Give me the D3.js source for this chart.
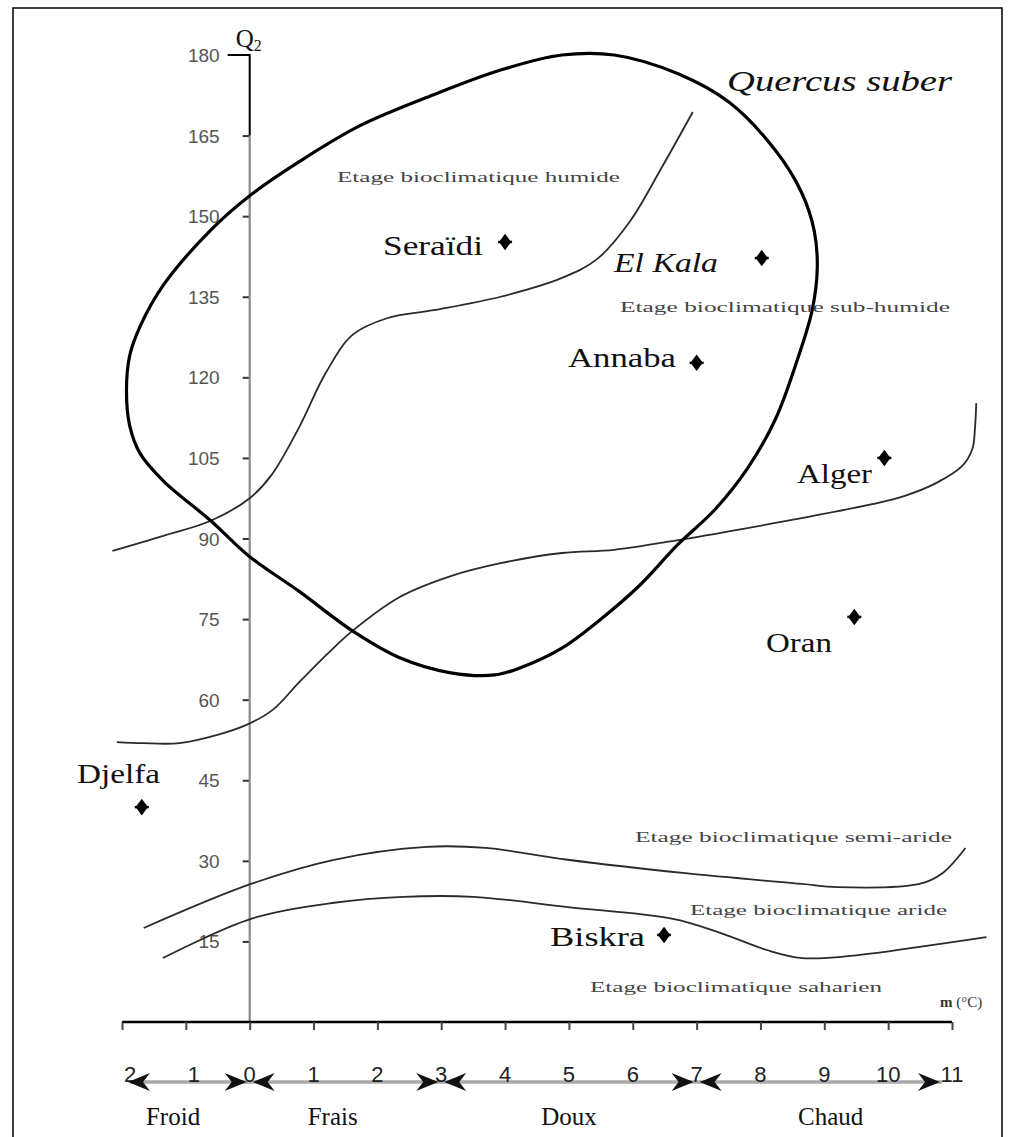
<!DOCTYPE html>
<html><head><meta charset="utf-8">
<script src="https://cdn.jsdelivr.net/npm/d3@7"></script>
<style>body{margin:0;background:#fff}svg{display:block}</style>
</head><body>
<svg id="c" width="1011" height="1137"></svg>
<script>
// ---- data (m in °C, Q2) ----
const yTicks = [15,30,45,60,75,90,105,120,135,150,165,180];
const xTicks = [-2,-1,0,1,2,3,4,5,6,7,8,9,10,11];
const xTickLabels = ["2","1","0","1","2","3","4","5","6","7","8","9","10","11"];
const quercus = [[0,86.6],[-0.61,93.3],[-1.35,100.7],[-1.72,105.9],[-1.88,111],[-1.93,117.6],[-1.88,124],[-1.72,129.4],[-1.35,137.2],[-0.61,147.4],[0,153.8],[0.77,160.1],[1.72,166.8],[2.88,172.6],[3.93,177.2],[4.89,180],[5.71,180],[6.71,176.5],[7.52,171.1],[8.23,162.3],[8.64,154.5],[8.84,147.4],[8.89,140.4],[8.81,132.5],[8.57,123],[8.23,112.1],[7.8,103.1],[7.28,95.3],[6.7,88.8],[6.11,81.3],[5.48,74.8],[4.89,69.6],[4.23,65.9],[3.84,64.6],[3.15,65],[2.35,67.8],[1.61,72.8],[0.77,80.2]];
const humidLimit = [[-2.15,87.7],[-1.35,90.5],[-0.61,93.3],[0,97.5],[0.34,101.8],[0.77,110.6],[1.19,120.8],[1.61,127.9],[2.15,131],[2.88,132.5],[3.93,135],[4.89,138.5],[5.44,142],[5.96,149.1],[6.46,159.2],[6.94,169.4]];
const subhumidLimit = [[-2.08,52.1],[-1.68,51.9],[-1.1,51.9],[-0.52,53.4],[-0.05,55.3],[0.36,58.1],[0.78,63.3],[1.25,68.9],[1.61,72.8],[2.35,79.1],[3.15,83],[3.93,85.4],[4.89,87.3],[5.71,87.9],[6.71,89.7],[7.73,91.8],[8.73,94],[9.75,96.4],[10.25,97.9],[10.75,100.3],[11.16,103.5],[11.32,106.7],[11.36,110.6],[11.38,115.2]];
const semiaridLimit = [[-1.66,17.5],[0.02,25.7],[1.32,30.2],[2.77,32.6],[3.7,32.4],[4.98,30.2],[6.82,27.7],[8.65,25.7],[9.2,25.1],[10.49,25.7],[10.85,27.7],[11.21,32.4]];
const aridLimit = [[-1.36,11.9],[0.02,19.2],[1.32,22.2],[2.41,23.3],[3.5,23.3],[4.98,21.4],[6.63,19.2],[7.37,16.6],[8.1,13.4],[8.65,11.9],[9.56,12.5],[10.49,14],[11.54,15.8]];
const stations = ["Seraïdi","El Kala","Annaba","Alger","Oran","Djelfa","Biskra"];
const stationM = [4.0,8.02,7.0,9.94,9.47,-1.69,6.49];
const stationQ = [145.2,142.2,122.7,105,75.4,40,16.2];
const zoneNames = ["Etage bioclimatique humide","Etage bioclimatique sub-humide","Etage bioclimatique semi-aride","Etage bioclimatique aride","Etage bioclimatique saharien"];
const classes = ["Froid","Frais","Doux","Chaud"];
const classBounds = [[-2,0],[0,3],[3,7],[7,11]];

// ---- layout ----
const svg = d3.select("#c");
const x = d3.scaleLinear().domain([-2,11]).range([122,952]);
const y = d3.scaleLinear().domain([0,180]).range([1022,55]);
const serif = "'Liberation Serif','Times New Roman',serif";
const sans = "'Liberation Sans',Arial,sans-serif";

svg.append("rect").attr("x",13).attr("y",8).attr("width",989).attr("height",1150)
  .attr("fill","none").attr("stroke","#000").attr("stroke-width",1.5);

// y axis
const yAx = svg.append("g").attr("transform",`translate(${x(0)},0)`)
  .call(d3.axisLeft(y).tickValues(yTicks.slice(0,-1)).tickSize(7).tickFormat(""));
yAx.select(".domain").remove();
yAx.selectAll(".tick line").attr("stroke","#333").attr("stroke-width",2);
svg.append("line").attr("x1",x(0)).attr("x2",x(0)).attr("y1",y(165)).attr("y2",y(0))
  .attr("stroke","#888").attr("stroke-width",2.2);
svg.append("path").attr("d",`M${x(0)-22},${y(180)}H${x(0)}V${y(165)}`)
  .attr("fill","none").attr("stroke","#000").attr("stroke-width",2);
svg.selectAll(".ylab").data(yTicks).join("text").attr("class","ylab")
  .attr("x",x(0)-30).attr("y",d=>y(d)+7).attr("text-anchor","end")
  .attr("font-family",sans).attr("font-size",19).attr("fill","#555")
  .text(d=>d);
const q = svg.append("text").attr("x",x(0)-14).attr("y",47).attr("font-family",serif).attr("font-size",25).attr("fill","#111");
q.append("tspan").text("Q");
q.append("tspan").attr("font-size",16).attr("dy",4).text("2");

// x axis
const xAx = svg.append("g").attr("transform",`translate(0,${y(0)})`)
  .call(d3.axisBottom(x).tickValues(xTicks).tickSize(8).tickFormat(""));
xAx.select(".domain").attr("stroke","#000").attr("stroke-width",2.5).attr("d",`M${x(-2)},0H${x(11)}`);
xAx.selectAll(".tick line").attr("stroke","#444").attr("stroke-width",2);

// class arrow row
const rowY = 1082;
svg.append("line").attr("x1",x(-2)+8).attr("x2",x(11)-10).attr("y1",rowY).attr("y2",rowY)
  .attr("stroke","#aaa").attr("stroke-width",3.5);
svg.selectAll(".xlab").data(xTicks).join("text").attr("class","xlab")
  .attr("x",d=>x(d)+(d<0?8:0)).attr("y",rowY).attr("text-anchor","middle")
  .attr("font-family",sans).attr("font-size",22).attr("fill","#222")
  .text((d,i)=>xTickLabels[i]);
function head(px, dir){ // dir=+1 pointing right, -1 left; px = tip
  const L=22,H=9,n=7;
  return `M${px},${rowY}L${px-dir*L},${rowY-H}L${px-dir*(L-n)},${rowY}L${px-dir*L},${rowY+H}Z`;
}
classBounds.forEach(([a,b])=>{
  svg.append("path").attr("d",head(x(a)+ (a===-2?6:3),-1)).attr("fill","#111");
  svg.append("path").attr("d",head(x(b)-(b===11?12:3),1)).attr("fill","#111");
});
const classMid = [-1.2,1.3,5.0,9.1];
svg.selectAll(".cls").data(classes).join("text").attr("class","cls")
  .attr("x",(d,i)=>x(classMid[i]))
  .attr("y",1125).attr("text-anchor","middle").attr("font-family",serif).attr("font-size",25).attr("fill","#111")
  .text(d=>d);

// curves
const line = d3.line().x(d=>x(d[0])).y(d=>y(d[1])).curve(d3.curveCatmullRom.alpha(0.5));
[humidLimit,subhumidLimit,semiaridLimit,aridLimit].forEach(c=>{
  svg.append("path").attr("d",line(c)).attr("fill","none").attr("stroke","#2a2a2a").attr("stroke-width",1.8);
});
svg.append("path").attr("d",d3.line().x(d=>x(d[0])).y(d=>y(d[1])).curve(d3.curveCatmullRomClosed.alpha(0.5))(quercus))
  .attr("fill","none").attr("stroke","#000").attr("stroke-width",3.2);

// stations
const markerType = {draw(ctx,size){const r=Math.sqrt(size)/2;
  ctx.moveTo(0,-r*1.35);ctx.lineTo(r,0);ctx.lineTo(0,r*1.35);ctx.lineTo(-r,0);ctx.closePath();}};
const sym = d3.symbol().type(markerType).size(150);
stations.forEach((s,i)=>{
  const g = svg.append("g").attr("transform",`translate(${x(stationM[i])},${y(stationQ[i])})`);
  g.append("path").attr("d",sym()).attr("fill","#000");
  g.append("line").attr("x1",-7).attr("x2",7).attr("stroke","#000").attr("stroke-width",2.5);
});
const stLab = [[383,255,100,false],[614,272,104,true],[568,367,108,false],[797,483,75,false],[766,652,66,false],[77,783,83,false],[550,946,95,false]];
stLab.forEach((p,i)=>{
  svg.append("text").attr("x",p[0]).attr("y",p[1]).attr("font-family",serif).attr("font-size",27)
    .attr("font-style",p[3]?"italic":"normal").attr("fill","#111")
    .attr("textLength",p[2]).attr("lengthAdjust","spacingAndGlyphs").text(stations[i]);
});
svg.append("text").attr("x",727).attr("y",91).attr("font-family",serif).attr("font-size",29)
  .attr("font-style","italic").attr("fill","#111").attr("textLength",225).attr("lengthAdjust","spacingAndGlyphs")
  .text("Quercus suber");

// zone labels
const zLab = [[337,182,283],[620,312,330],[635,842,317],[690,915,257],[590,992,292]];
zLab.forEach((p,i)=>{
  svg.append("text").attr("x",p[0]).attr("y",p[1]).attr("font-family",serif).attr("font-size",15)
    .attr("fill","#444").attr("textLength",p[2]).attr("lengthAdjust","spacingAndGlyphs").text(zoneNames[i]);
});
const mt = svg.append("text").attr("x",940).attr("y",1007).attr("font-family",serif).attr("font-size",15).attr("fill","#333");
mt.append("tspan").attr("font-weight","bold").text("m");
mt.append("tspan").text(" (°C)");
</script>
</body></html>
